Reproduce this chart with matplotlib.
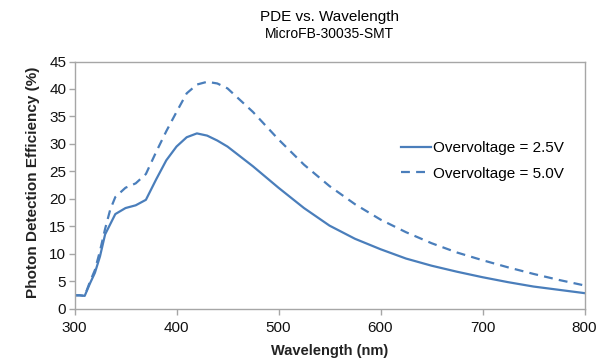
import matplotlib

matplotlib.use("Agg")
import matplotlib.pyplot as plt

plt.rcParams["font.family"] = ["Liberation Sans", "DejaVu Sans"]

# PDE curves for the MicroFB-30035-SMT at two overvoltages
wavelength_25 = [300, 305, 310, 315, 320, 325, 330, 340, 350, 360, 370, 380, 390,
                 400, 410, 420, 430, 440, 450, 475, 500, 525, 550, 575, 600, 625,
                 650, 675, 700, 725, 750, 775, 800]
pde_25 = [2.4, 2.4, 2.3, 4.5, 6.5, 9.5, 13.5, 17.2, 18.3, 18.8, 19.8, 23.5, 27.0,
          29.5, 31.2, 31.9, 31.5, 30.6, 29.5, 25.9, 22.0, 18.3, 15.1, 12.7, 10.8,
          9.1, 7.8, 6.7, 5.7, 4.8, 4.0, 3.4, 2.8]

wavelength_50 = [300, 305, 310, 315, 320, 325, 330, 335, 340, 350, 360, 370, 380,
                 390, 400, 410, 420, 430, 440, 450, 475, 500, 525, 550, 575, 600,
                 625, 650, 675, 700, 725, 750, 775, 800]
pde_50 = [2.4, 2.4, 2.3, 4.8, 7.0, 10.5, 14.5, 18.0, 20.3, 22.0, 22.8, 24.5, 28.5,
          32.3, 35.8, 39.2, 40.8, 41.3, 41.0, 40.1, 35.8, 30.8, 26.2, 22.3, 19.0,
          16.2, 13.9, 11.9, 10.2, 8.8, 7.5, 6.3, 5.2, 4.2]

labels = ["Overvoltage = 2.5V", "Overvoltage = 5.0V"]

BLUE = "#4a7ebb"
FRAME = "#a6a6a6"
W, H = 596, 360

fig = plt.figure(figsize=(W / 100, H / 100), dpi=100)
left, right, top, bottom = 74.5, 584.5, 61.5, 308.5
ax = fig.add_axes([left / W, 1 - bottom / H, (right - left) / W, (bottom - top) / H])

ax.plot(wavelength_25, pde_25, color=BLUE, lw=1.6, label=labels[0])
ax.plot(wavelength_50, pde_50, color=BLUE, lw=1.6, ls=(0, (4, 2.8)), label=labels[1])

ax.set_xlim(300, 800)
ax.set_ylim(0, 45)
ax.set_xticks(range(300, 801, 100))
ax.set_yticks(range(0, 46, 5))
for s in ax.spines.values():
    s.set_color(FRAME)
    s.set_linewidth(1.0)
ax.tick_params(axis="both", colors=FRAME, labelcolor="#111111", labelsize=11,
               length=4, width=1.0, direction="out")
ax.tick_params(axis="x", pad=5)
ax.tick_params(axis="y", pad=2)

ax.legend(loc="center left", bbox_to_anchor=(387 / W, 1 - 161 / H),
          bbox_transform=fig.transFigure, frameon=False, fontsize=11,
          handlelength=2.0, handletextpad=0.1, labelspacing=0.75)

cx = (left + right) / 2 / W
fig.text(cx, 1 - 17 / H, "PDE vs. Wavelength", ha="center", va="center", fontsize=11)
fig.text(cx, 1 - 34 / H, "MicroFB-30035-SMT", ha="center", va="center", fontsize=10)
fig.text(cx, 1 - 351 / H, "Wavelength (nm)", ha="center", va="center",
         fontsize=10.5, fontweight="bold", color="#222222")
fig.text(33 / W, 1 - 182 / H, "Photon Detection Efficiency (%)", ha="center",
         va="center", rotation=90, fontsize=11, fontweight="bold", color="#222222")

fig.savefig("out.png", dpi=100)
